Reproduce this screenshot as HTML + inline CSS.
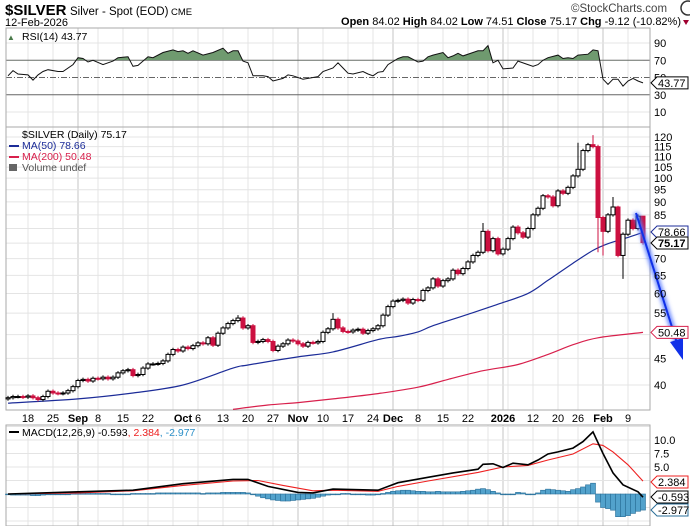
<!DOCTYPE html>
<html><head><meta charset="utf-8">
<style>
html,body{margin:0;padding:0;background:#fff;}
svg{display:block;font-family:"Liberation Sans",sans-serif;}
</style></head>
<body>
<svg id="chart" width="690" height="526" viewBox="0 0 690 526" xmlns="http://www.w3.org/2000/svg">
<defs>
  <clipPath id="rsiTop"><rect x="6" y="28" width="644" height="32.25"/></clipPath>
  <filter id="glow" x="-50%" y="-50%" width="200%" height="200%"><feGaussianBlur stdDeviation="2.2"/></filter>
</defs>
<g>
  <text x="5" y="15" font-size="15" font-weight="bold" fill="#000">$SILVER</text>
  <text x="70" y="15" font-size="11.5" fill="#000">Silver - Spot (EOD)</text>
  <text x="171" y="15" font-size="9.5" fill="#000">CME</text>
  <text x="5" y="26" font-size="11" fill="#000">12-Feb-2026</text>
  <text x="571" y="12" font-size="11.5" fill="#444">©StockCharts.com</text>
  <circle cx="688" cy="8" r="7" fill="none" stroke="#333" stroke-width="1.5"/>
  <text x="681" y="25" font-size="11" text-anchor="end" fill="#000"><tspan font-weight="bold">Open</tspan> 84.02  <tspan font-weight="bold">High</tspan> 84.02  <tspan font-weight="bold">Low</tspan> 74.51  <tspan font-weight="bold">Close</tspan> 75.17  <tspan font-weight="bold">Chg</tspan> -9.12 (-10.82%)</text>
  <path d="M683,20 L689,20 L686,25 Z" fill="#a00030"/>
</g>
<g id="grid"></g>
<g id="marks"></g>
<g id="labels"></g>
</svg>
<script>
// ---- data ----
const closes = [37.8,38.0,38.0,37.9, 38.1,37.8,37.5,38.0,38.9, 38.6,38.5,38.6,39.0,39.7, 40.8,41.0,40.7,41.2, 41.1,41.4,41.1,41.4,42.2, 42.6,42.8,41.7,41.9,43.1, 43.9,43.9,44.0,44.5,45.8, 46.8,46.5,47.3,47.0,47.6, 48.2,48.0,49.3,47.7,50.3, 51.5,52.5,53.2,53.8,51.5, 52.0,48.3,48.5,48.9,48.5, 46.6,47.5,48.0,48.8,48.6, 48.0,47.5,48.3,48.2,48.5, 50.5,51.3,53.5,51.5,50.7, 50.6,51.0,51.2,50.3,50.9, 51.3,52.0,54.5,56.6, 58.0,58.2,58.5,57.5,58.4, 58.2,60.8,61.5,64.0,62.0, 63.5,64.0,66.5,65.5,67.0, 69.0,71.0,72.0,79.0, 72.5,76.5,71.5, 73.0, 76.5,80.5,78.5,77.0,80.0, 85.0,87.5,92.5,92.0,88.5, 94.5,93.5,96.0,101.0, 104.0,113.0,116.0,115.0,84.0, 79.0,85.0,88.0,71.0,78.0, 83.0,80.0,84.5,75.17];
const firstOpen = 37.6;
const highIdx = [46,65,95,114,117,121,122,127];
const highVal = [54.5,55.0,82.0,117.0,121.0,92.0,88.5,84.0];
const lowIdx = [118,119,123,127];
const lowVal = [72.0,71.0,64.0,74.5];
const ma50Idx = [0,14,25,35,45,48,58,65,74,78,82,85,92,98,104,108,113,117,120,124,127];
const ma50Val = [36.9,37.6,38.6,40.0,43.1,43.7,45.3,46.3,48.9,49.6,50.6,52.0,54.7,57.2,60.0,63.6,68.6,72.6,74.8,76.9,78.66];
const ma200Idx = [45,52,58,65,74,82,88,95,102,108,113,118,127];
const ma200Val = [35.9,36.6,37.0,37.6,38.5,39.6,41.0,42.6,43.8,45.8,47.8,49.3,50.48];
const priceTicks = [120,115,110,105,100,95,90,85,70,65,60,55,45,40];
const priceGrid = [120,115,110,105,100,95,90,85,80,75,70,65,60,55,50,45,40];
const rsiIdx = [0,1,2,4,5,6,7,8,10,11,13,14,15,16,17,19,21,22,24,25,26,28,29,31,33,34,35,36,37,39,41,43,44,45,46,47,48,49,51,52,53,55,56,57,59,60,62,63,65,66,67,68,69,71,72,73,74,75,76,78,79,80,82,83,84,85,87,88,89,90,91,93,94,95,96,97,98,99,101,102,104,105,106,107,108,110,111,112,113,114,116,117,118,119,120,121,122,123,124,125,126,127];
const rsiVal = [52,58,54,53,47,53,57,59,57,57,65,73,72,68,70,65,69,73,74,63,64,74,73,79,82,80,81,78,81,76,79,84,78,81,81,69,67,52,52,51,46,49,53,52,48,49,51,57,61,67,61,55,54,57,54,52,56,57,65,72,74,74,68,69,74,76,79,73,75,78,75,79,81,81,87,67,70,60,61,69,65,63,65,70,73,76,72,73,72,76,77,82,81,48,42,48,48,40,46,49,46,43.77];
const macdIdx = [0,14,25,35,45,48,52,58,61,65,74,78,84,89,94,95,97,99,101,104,106,108,110,113,115,117,119,121,123,126,127];
const macdVal = [0,0.4,0.7,1.9,2.7,2.7,1.4,0.3,0.2,0.9,0.7,2.1,3.1,3.9,4.6,5.5,5.6,4.9,5.7,5.4,6.3,7.4,7.8,8.5,9.7,11.5,7.5,3.9,1.7,0.4,-0.593];
const sigIdx = [0,14,25,35,45,50,55,61,65,74,78,84,94,99,104,108,113,117,119,121,124,127];
const sigVal = [0,0.2,0.6,1.6,2.4,2.5,1.6,0.6,0.7,0.5,1.4,2.4,4.0,5.0,5.3,6.3,7.4,9.3,9.0,7.8,5.4,2.384];
const histVal = [-0.1,-0.2,-0.2,-0.2,-0.2,-0.3,-0.3,-0.2,-0.1,0,0,0,0,0.1,
 0.1,0.1,0.1,0.1,0.1,0.1,0.1,0,0,0,0,0.1,0.1,0.1,0.1,0.1,0.2,0.2,0.2,0.2,0.2,
 0.2,0.2,0.2,0.2,0.1,0.2,0.2,0.2,0.3,0.3,0.3,0.3,0.3,0.2,0,-0.4,-0.7,-0.9,-1.1,-1.2,-1.3,-1.3,-1.2,
 -1.1,-1.0,-0.9,-0.8,-0.6,-0.4,-0.2,-0.1,0,0.1,0.1,0,0,0,-0.2,-0.2,-0.1,0.1,0.3,
 0.5,0.6,0.7,0.7,0.6,0.5,0.5,0.4,0.4,0.5,0.4,0.4,0.4,0.4,0.5,0.6,0.7,0.9,1.0,0.8,0.5,0.2,
 0,0,0,0.3,0.2,0,0,0.2,0.7,0.9,0.8,0.7,0.6,0.5,0.8,1.0,1.3,1.7,2.0,-1.5,
 -2.5,-2.7,-3.0,-4.2,-4.2,-4.0,-3.6,-3.2,-2.977];
const weekIdx = [4,9,14,18,23,28,33,38,43,48,53,58,63,68,73,77,82,87,92,96,99,100,105,110,114,119,124];
const monthIdx = [14,35,58,77,99,119];
const xLabelIdx = [4,9,14,18,23,28,35,38,43,48,53,58,63,68,73,77,82,87,92,99,105,110,114,119,124];
const xLabelText = ["18","25","Sep","8","15","22","Oct","6","13","20","27","Nov","10","17","24","Dec","8","15","22","2026","12","20","26","Feb","9"];
const xLabelBold = [0,0,1,0,0,0,1,0,0,0,0,1,0,0,0,1,0,0,0,1,0,0,0,1,0];
const macdTicks = [10.0,7.5,5.0];
const rsiTicks = [90,70,50,30,10];

// ---- axes ----
const L=6, R=650;
const xs = i => 8 + 5*i;
const yP = p => 137 + 225.7*Math.log(120/p);
const yR = r => 112 + (10-r)*0.8625;
const yM = v => 494 - v*5.4;
const NS="http://www.w3.org/2000/svg";
const grid=document.getElementById('grid'), marks=document.getElementById('marks'), labels=document.getElementById('labels');
function mk(tag, attrs, parent){const e=document.createElementNS(NS,tag);for(const k in attrs)e.setAttribute(k,attrs[k]);parent.appendChild(e);return e;}
function txt(x,y,s,attrs,parent){const e=mk('text',Object.assign({x:x,y:y,'font-size':11,fill:'#000'},attrs),parent);e.textContent=s;return e;}
function smooth(idx,val,yf){
  const p=idx.map((d,k)=>[xs(d),yf(val[k])]);
  let d='M'+p[0][0]+','+p[0][1].toFixed(1);
  for(let k=0;k<p.length-1;k++){
    const p0=p[k-1]||p[k],p1=p[k],p2=p[k+1],p3=p[k+2]||p2;
    const c1=[p1[0]+(p2[0]-p0[0])/6,p1[1]+(p2[1]-p0[1])/6];
    const c2=[p2[0]-(p3[0]-p1[0])/6,p2[1]-(p3[1]-p1[1])/6];
    d+=` C${c1[0].toFixed(1)},${c1[1].toFixed(1)} ${c2[0].toFixed(1)},${c2[1].toFixed(1)} ${p2[0]},${p2[1].toFixed(1)}`;
  }
  return d;
}

const panels=[{t:28,b:127,n:'rsi-panel'},{t:127,b:410,n:'price-panel'},{t:425,b:526,n:'macd-panel'}];
panels.forEach(p=>{
  weekIdx.forEach(i=>{const ln=mk('line',{x1:xs(i),x2:xs(i),y1:p.t,y2:p.b,stroke:monthIdx.includes(i)?'#c4c4c4':'#e4e4e4','stroke-width':1},grid);
  
  });
});
priceGrid.forEach(v=>{const ln=mk('line',{x1:L,x2:R,y1:yP(v),y2:yP(v),stroke:'#e4e4e4'},grid);

});
[12.5,10,7.5,5,2.5,-2.5,-5].forEach(v=>{const ln=mk('line',{x1:L,x2:R,y1:yM(v),y2:yM(v),stroke:'#e4e4e4'},grid);

});
[90,10].forEach(v=>{const ln=mk('line',{x1:L,x2:R,y1:yR(v),y2:yR(v),stroke:'#e4e4e4'},grid);

});
[70,30].forEach(v=>{const ln=mk('line',{x1:L,x2:R,y1:yR(v),y2:yR(v),stroke:'#666'},grid);

});
{const ln=mk('line',{x1:L,x2:R,y1:yR(50),y2:yR(50),stroke:'#666','stroke-dasharray':'6,2,1,2'},grid);

}
panels.forEach(p=>{const r=mk('rect',{x:L,y:p.t,width:R-L,height:p.b-p.t,fill:'none',stroke:'#aaa'},grid);

});

// ---- RSI ----
const rsiPts = rsiIdx.map((d,k)=>xs(d)+','+yR(rsiVal[k]).toFixed(1));
const fillPoly = mk('polygon',{points:xs(rsiIdx[0])+','+yR(70)+' '+rsiPts.join(' ')+' '+xs(rsiIdx[rsiIdx.length-1])+','+yR(70),fill:'#6f9a6f','clip-path':'url(#rsiTop)'},marks);


const rsiLine = mk('polyline',{points:rsiPts.join(' '),fill:'none',stroke:'#111','stroke-width':1},marks);



// ---- MAs ----
const ma200 = mk('path',{d:smooth(ma200Idx,ma200Val,yP),fill:'none',stroke:'#d8204c','stroke-width':1.2},marks);


const ma50 = mk('path',{d:smooth(ma50Idx,ma50Val,yP),fill:'none',stroke:'#1c2c98','stroke-width':1.2},marks);



// ---- candles ----
closes.forEach((c,i)=>{
  const o = i===0 ? firstOpen : closes[i-1];
  const hiK = highIdx.indexOf(i), loK = lowIdx.indexOf(i);
  const h = hiK>=0 ? highVal[hiK] : Math.max(o,c)*1.008;
  const l = loK>=0 ? lowVal[loK] : Math.min(o,c)*0.992;
  const up = c>=o, x=xs(i);
  const col = up ? '#000' : '#cc1040';
  const w = mk('line',{x1:x,x2:x,y1:yP(h),y2:yP(l),stroke:col,'stroke-width':1},marks);
  
  
  const top=yP(Math.max(o,c)), bot=yP(Math.min(o,c));
  const b = mk('rect',{x:x-2,y:top,width:4,height:Math.max(1,bot-top),fill:up?'#fff':'#cc1040',stroke:col,'stroke-width':1},marks);
  
  
});

// ---- MACD ----
histVal.forEach((v,i)=>{
  const y0=yM(0), y1=yM(v);
  const r=mk('rect',{x:xs(i)-2.5,y:Math.min(y0,y1),width:5,height:Math.max(0.8,Math.abs(y1-y0)),fill:'#52a2cc',stroke:'#2b6f98','stroke-width':0.6},marks);
  
  
});
const sig = mk('polyline',{points:sigIdx.map((d,k)=>xs(d)+','+yM(sigVal[k]).toFixed(1)).join(' '),fill:'none',stroke:'#ee2020','stroke-width':1.1},marks);


const mac = mk('polyline',{points:macdIdx.map((d,k)=>xs(d)+','+yM(macdVal[k]).toFixed(1)).join(' '),fill:'none',stroke:'#000','stroke-width':1.6},marks);



// ---- arrow annotation ----
const ag = mk('g',{},marks);


mk('line',{x1:636,y1:213,x2:678,y2:346,stroke:'#5a7bff','stroke-width':5,filter:'url(#glow)'},ag);
mk('line',{x1:636,y1:213,x2:677,y2:343,stroke:'#1030e8','stroke-width':2},ag);
mk('path',{d:'M683,360 L670,342 L683,338 Z',fill:'#1030e8'},ag);

// ---- labels ----
priceTicks.forEach(v=>{const t=txt(654,yP(v)+4,String(v),{'font-size':11},labels);

});
rsiTicks.forEach(v=>{const t=txt(654,yR(v)+4,String(v),{'font-size':11},labels);

});
macdTicks.forEach(v=>{const t=txt(654,yM(v)+4,v.toFixed(1),{'font-size':11},labels);

});
xLabelIdx.forEach((d,k)=>{const t=txt(xs(d),422,xLabelText[k],{'font-size':11,'text-anchor':'middle','font-weight':xLabelBold[k]?'bold':'normal'},labels);

});

function tag(y,s,stroke,bold,name){
  const g=mk('g',{},labels);
  
  
  mk('path',{d:`M651,${y} L657,${y-6} L688,${y-6} L688,${y+6} L657,${y+6} Z`,fill:'#fff',stroke:stroke,'stroke-width':1},g);
  txt(658,y+4,s,{'font-size':11,'font-weight':bold?'bold':'normal'},g);
}
tag(yR(43.77),'43.77','#000',false,'rsi-value-tag');
tag(232,'78.66','#1c2c98',false,'ma50-value-tag');
tag(243,'75.17','#000',true,'close-value-tag');
tag(yP(50.48),'50.48','#d8204c',false,'ma200-value-tag');
tag(482,'2.384','#ee2020',false,'signal-value-tag');
tag(497,'-0.593','#000',false,'macd-value-tag');
tag(510,'-2.977','#2b6f98',false,'histogram-value-tag');

function leg(y,s,col,name){const t=txt(22,y,s,{'font-size':10.5,fill:col},labels);

}
txt(7,40,'▲',{'font-size':8,fill:'#4a7a4a'},labels);
leg(40,'RSI(14) 43.77','#000','rsi-legend');
leg(138,'$SILVER (Daily) 75.17','#000','price-legend');
leg(149,'MA(50) 78.66','#1c2c98','ma50-legend');
leg(160,'MA(200) 50.48','#d8204c','ma200-legend');
leg(171,'Volume undef','#555','volume-legend');
mk('line',{x1:9,x2:19,y1:146,y2:146,stroke:'#1c2c98','stroke-width':2},labels);
mk('line',{x1:9,x2:19,y1:157,y2:157,stroke:'#d8204c','stroke-width':2},labels);
mk('rect',{x:9,y:164,width:8,height:7,fill:'#666'},labels);
mk('line',{x1:9,x2:19,y1:432,y2:432,stroke:'#000','stroke-width':2},labels);
const ml=txt(22,436,'',{'font-size':10.5},labels);


ml.innerHTML='MACD(12,26,9) -0.593<tspan fill="#ee2020">, 2.384</tspan><tspan fill="#2b8fc8">, -2.977</tspan>';
</script>
</body></html>
